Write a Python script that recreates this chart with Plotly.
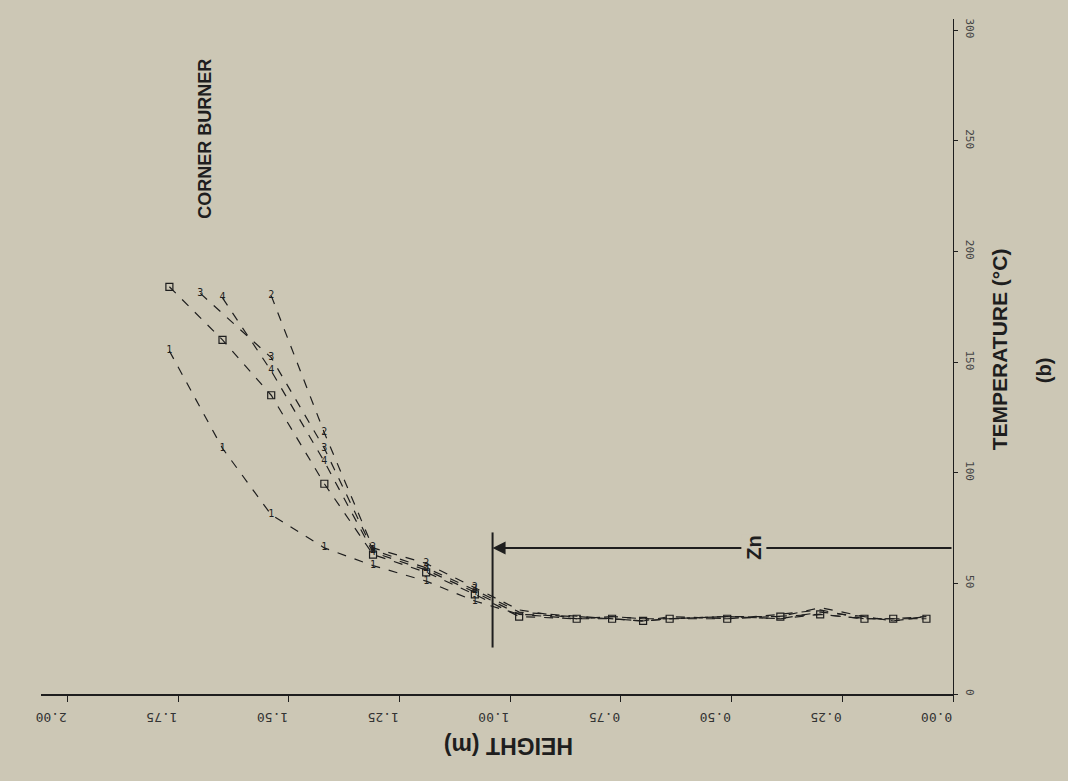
import plotly.graph_objects as go

# ---------------- data (height in m, temperature in °C) ----------------
lower_h = [0.98, 0.85, 0.77, 0.70, 0.64, 0.51, 0.39, 0.30, 0.20, 0.135, 0.06]

c1_h = [1.77, 1.65, 1.54, 1.42, 1.31, 1.19, 1.08] + lower_h
c1_t = [155, 111, 81, 66, 58, 51, 42] + [36, 35, 34, 33, 34, 35, 34, 36, 34, 34, 35]

c2_h = [1.54, 1.42, 1.31, 1.19, 1.08] + lower_h
c2_t = [180, 118, 66, 59, 48] + [38, 34, 35, 34, 34, 35, 35, 39, 35, 33, 35]

c3_h = [1.70, 1.54, 1.42, 1.31, 1.19, 1.08] + lower_h
c3_t = [181, 152, 111, 65, 57, 47] + [37, 35, 34, 33, 35, 34, 36, 38, 34, 34, 34]

c4_h = [1.65, 1.54, 1.42, 1.31, 1.19, 1.08] + lower_h
c4_t = [179, 146, 105, 64, 56, 46] + [36, 34, 35, 34, 34, 35, 34, 37, 35, 33, 35]

c5_h = [1.77, 1.65, 1.54, 1.42, 1.31, 1.19, 1.08] + lower_h
c5_t = [184, 160, 135, 95, 63, 55, 45] + [35, 34, 34, 33, 34, 34, 35, 36, 34, 34, 34]

series_names = ["1", "2", "3", "4", "5"]

height_ticks = [0.0, 0.25, 0.50, 0.75, 1.00, 1.25, 1.50, 1.75, 2.00]
height_labels = ["0.00", "0.25", "0.50", "0.75", "1.00", "1.25", "1.50", "1.75", "2.00"]
temp_ticks = [0, 50, 100, 150, 200, 250, 300]
temp_labels = ["0", "50", "100", "150", "200", "250", "300"]

zn_height = 1.04
zn_temp = 66
zn_bar_t = [21, 73]

BG = "#ccc7b5"
INK = "#1e1e1e"

fig = go.Figure()

all_series = [(c1_h, c1_t), (c2_h, c2_t), (c3_h, c3_t), (c4_h, c4_t), (c5_h, c5_t)]
for name, (h, t) in zip(series_names, all_series):
    if name == "5":
        fig.add_trace(go.Scatter(
            x=h, y=t, mode="lines+markers", name=name,
            line=dict(color=INK, width=1.2, dash="dash"),
            marker=dict(symbol="square-open", size=7, color=INK, line=dict(width=1.2)),
            showlegend=False, cliponaxis=False))
    else:
        # plotted characters only above the neutral plane (below it the curves coincide)
        labels = [name if hv > zn_height else "" for hv in h]
        fig.add_trace(go.Scatter(
            x=h, y=t, mode="lines+text", name=name,
            text=labels, textposition="middle center",
            textfont=dict(family="DejaVu Sans Mono", size=10, color=INK),
            line=dict(color=INK, width=1.2, dash="dash"),
            showlegend=False, cliponaxis=False))

# Zn marker: vertical bar and arrow
fig.add_shape(type="line", xref="x", yref="y", x0=zn_height, x1=zn_height,
              y0=zn_bar_t[0], y1=zn_bar_t[1], line=dict(color=INK, width=2))
fig.add_annotation(x=zn_height, y=zn_temp, ax=0, ay=zn_temp, xref="x", yref="y",
                   axref="x", ayref="y", text="", showarrow=True,
                   arrowhead=2, arrowsize=1.3, arrowwidth=2, arrowcolor=INK)
fig.add_annotation(x=0.45, y=zn_temp, xref="x", yref="y", text="<b>Zn</b>",
                   textangle=-90, showarrow=False, bgcolor=BG,
                   xanchor="center", yanchor="middle",
                   font=dict(family="Liberation Sans", size=20, color=INK))

# titles (positions in paper units)
def label(x, y, text, angle, size):
    fig.add_annotation(x=x, y=y, xref="paper", yref="paper", text=text,
                       textangle=angle, showarrow=False,
                       xanchor="center", yanchor="middle",
                       font=dict(family="Liberation Sans", size=size, color=INK))

label(0.512, -0.078, "<b>HEIGHT (m)</b>", 180, 23)
label(1.051, 0.51, "<b>TEMPERATURE (°C)</b>", -90, 21)
label(1.100, 0.48, "<b>(b)</b>", -90, 20)
label(0.18, 0.823, "<b>CORNER BURNER</b>", -90, 18)

fig.update_layout(
    width=1068, height=781,
    margin=dict(l=41, r=115, t=19, b=87),
    paper_bgcolor=BG, plot_bgcolor=BG,
    showlegend=False,
    xaxis=dict(range=[2.06, 0], tickvals=height_ticks, ticktext=height_labels,
               tickangle=180, ticks="outside", ticklen=6, tickcolor=INK,
               ticklabelshift=32, ticklabelstandoff=9,
               showline=True, linecolor=INK, linewidth=1.5, showgrid=False, zeroline=False,
               tickfont=dict(family="DejaVu Sans Mono", size=13, color="#333")),
    yaxis=dict(range=[0, 305], side="right", tickvals=temp_ticks, ticktext=temp_labels,
               tickangle=90, ticks="outside", ticklen=4, tickcolor=INK,
               ticklabelstandoff=4,
               showline=True, linecolor=INK, linewidth=1.2, showgrid=False, zeroline=False,
               tickfont=dict(family="DejaVu Sans Mono", size=11, color="#444")),
)

fig.write_html(
    "out.html",
    config={"displayModeBar": False},
    post_script=(
        "document.body.style.margin='0';"
        "document.body.style.overflow='hidden';"
        "document.documentElement.style.overflow='hidden';"
        "document.body.style.background='" + BG + "';"
    ),
)
